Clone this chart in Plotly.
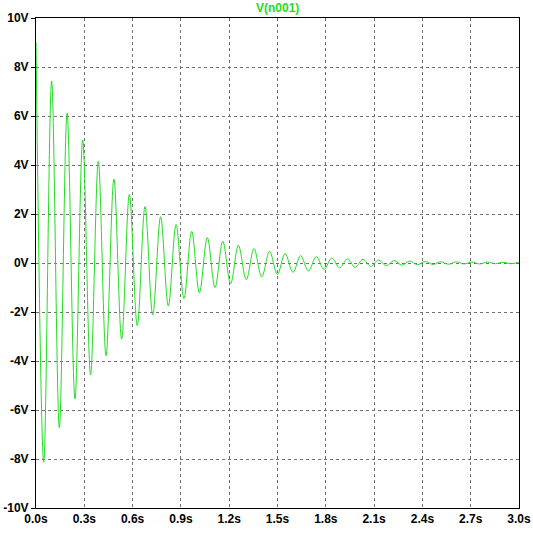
import plotly.graph_objects as go

# Extrema of V(n001)
peak_t = [0.000, 0.097, 0.193, 0.290, 0.387, 0.484, 0.580, 0.677, 0.774, 0.870,
          0.967, 1.064, 1.160, 1.257, 1.354, 1.451, 1.547, 1.644, 1.741, 1.837,
          1.934, 2.031, 2.127, 2.224, 2.321, 2.418, 2.514, 2.611, 2.708, 2.804,
          2.901, 2.998]
peak_v = [9.00, 7.43, 6.11, 5.02, 4.15, 3.42, 2.80, 2.30, 1.89, 1.57,
          1.29, 1.04, 0.89, 0.72, 0.59, 0.48, 0.38, 0.30, 0.26, 0.20,
          0.17, 0.15, 0.12, 0.10, 0.08, 0.06, 0.05, 0.05, 0.04, 0.04,
          0.03, 0.03]
trough_t = [0.048, 0.145, 0.242, 0.339, 0.435, 0.532, 0.629, 0.725, 0.822, 0.919,
            1.015, 1.112, 1.209, 1.306, 1.402, 1.499, 1.596, 1.692, 1.789, 1.886,
            1.982, 2.079, 2.176, 2.273, 2.369, 2.466, 2.563, 2.659, 2.756, 2.853,
            2.949]
trough_v = [-8.13, -6.72, -5.55, -4.57, -3.78, -3.11, -2.56, -2.12, -1.76, -1.45,
            -1.21, -1.00, -0.84, -0.68, -0.57, -0.47, -0.38, -0.33, -0.26, -0.20,
            -0.17, -0.14, -0.11, -0.09, -0.07, -0.06, -0.05, -0.04, -0.04, -0.03,
            -0.03]

x_tickvals = [0.0, 0.3, 0.6, 0.9, 1.2, 1.5, 1.8, 2.1, 2.4, 2.7, 3.0]
x_ticktext = ["0.0s", "0.3s", "0.6s", "0.9s", "1.2s", "1.5s", "1.8s", "2.1s", "2.4s", "2.7s", "3.0s"]
y_tickvals = [10, 8, 6, 4, 2, 0, -2, -4, -6, -8, -10]
y_ticktext = ["10V", "8V", "6V", "4V", "2V", "0V", "-2V", "-4V", "-6V", "-8V", "-10V"]

pts = sorted(list(zip(peak_t, peak_v)) + list(zip(trough_t, trough_v)))
t = [p[0] for p in pts]
v = [p[1] for p in pts]

GREEN = "#22dd22"
fig = go.Figure()
fig.add_trace(go.Scatter(x=t, y=v, mode="lines",
                         line=dict(color=GREEN, width=1, shape="spline", smoothing=1),
                         showlegend=False, hoverinfo="skip", cliponaxis=False))

tickfont = dict(family="Liberation Sans", size=12, color="black", weight="bold")
fig.update_layout(
    width=533, height=534,
    margin=dict(l=36, r=14, t=18, b=26, autoexpand=False),
    paper_bgcolor="white", plot_bgcolor="white",
    xaxis=dict(range=[0, 3], tickvals=x_tickvals, ticktext=x_ticktext, automargin=False,
               showgrid=True, gridcolor="#707070", griddash="3px,3px", gridwidth=1,
               showline=True, linecolor="black", linewidth=1, mirror=True,
               zeroline=False, ticks="", tickfont=tickfont, ticklabelstandoff=0),
    yaxis=dict(range=[-10, 10], tickvals=y_tickvals, ticktext=y_ticktext, automargin=False,
               showgrid=True, gridcolor="#707070", griddash="3px,3px", gridwidth=1,
               showline=True, linecolor="black", linewidth=1, mirror=True,
               zeroline=False, ticks="outside", ticklen=4, tickcolor="black",
               tickfont=tickfont, ticklabelstandoff=0),
    annotations=[dict(text="V(n001)", x=0.5, y=1, xref="paper", yref="paper",
                      xanchor="center", yanchor="bottom", showarrow=False, yshift=1,
                      font=dict(family="Liberation Sans", size=12, color=GREEN, weight="bold"))],
)
fig.write_html("out.html", config={"displayModeBar": False},
               post_script="document.body.style.margin='0';document.body.style.padding='0';")
